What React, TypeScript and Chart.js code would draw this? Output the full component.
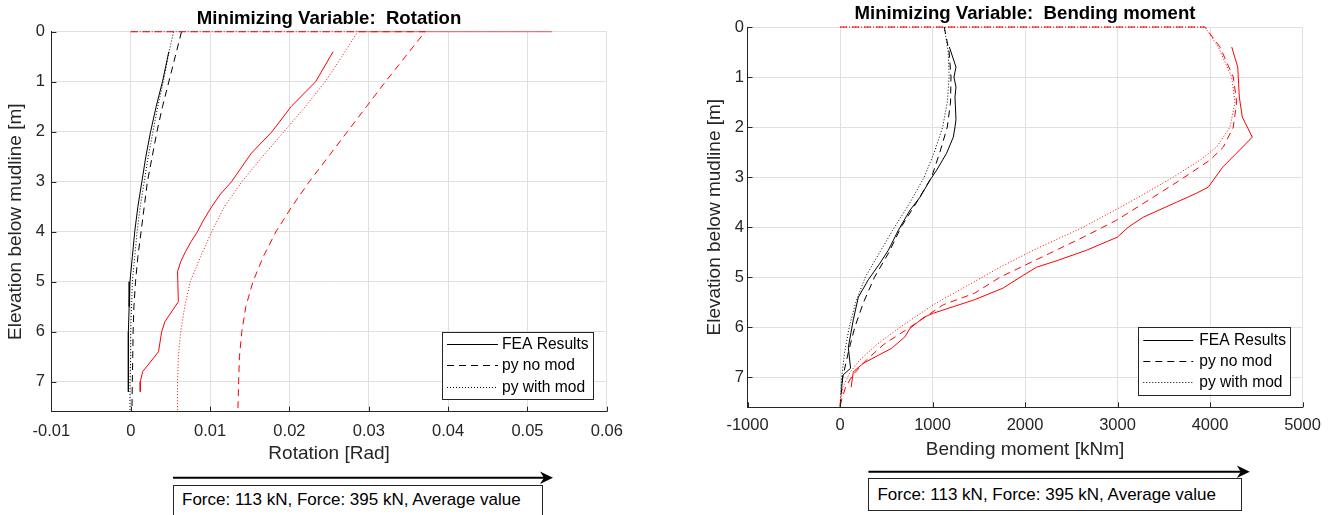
import React, { useEffect, useRef } from 'react';
import { Chart, registerables } from 'chart.js';

Chart.register(...registerables);

const FONT = "'Liberation Sans', Arial, Helvetica, sans-serif";
const AXIS_COLOR = '#262626';
const GRID_COLOR = '#e0e0e0';
const RED = '#ff0000';
const BLACK = '#000000';

// ---------- shared texts / ticks ----------
const yAxisLabel = 'Elevation below mudline [m]';
const depthTicks = [0, 1, 2, 3, 4, 5, 6, 7];
const depthTickLabels = ['0', '1', '2', '3', '4', '5', '6', '7'];
const depthMin = 0;
const depthMax = 7.6;
const legendLabels = ['FEA Results', 'py no mod', 'py with mod'];
const annotationText = 'Force: 113 kN, Force: 395 kN, Average value';

// ---------- left panel: Rotation ----------
const rotTitle = 'Minimizing Variable:  Rotation';
const rotXLabel = 'Rotation [Rad]';
const rotXTicks = [-0.01, 0, 0.01, 0.02, 0.03, 0.04, 0.05, 0.06];
const rotXTickLabels = ['-0.01', '0', '0.01', '0.02', '0.03', '0.04', '0.05', '0.06'];

const rotFeaBlackDepth = [0.4, 1, 1.5, 2, 2.5, 3, 3.5, 4, 4.5, 5, 5.5, 6, 6.5, 7, 7.2];
const rotFeaBlack = [0.0048, 0.004, 0.0032, 0.0025, 0.0019, 0.0014, 0.0009, 0.0005, 0.0002, -0.0001, -0.0002, -0.0003, -0.0003, -0.0003, -0.0003];

const rotPyDepth = [0, 0.5, 1, 1.5, 2, 2.5, 3, 3.5, 4, 4.5, 5, 5.5, 6, 6.5, 7, 7.6];
const rotNoModBlack = [0.0064, 0.0056, 0.0048, 0.004, 0.0033, 0.0027, 0.0021, 0.0017, 0.0013, 0.0009, 0.0006, 0.0004, 0.0003, 0.00025, 0.0002, 0.00015];
const rotWithModBlack = [0.0054, 0.0047, 0.0041, 0.0034, 0.0028, 0.0022, 0.0017, 0.0012, 0.0008, 0.0005, 0.0002, 0.0001, 0.0, 0.0, -0.0001, -0.0001];

const rotFeaRedDepth = [0.4, 1.0, 1.5, 2.0, 2.43, 3.0, 3.25, 3.5, 3.76, 4.0, 4.2, 4.4, 4.6, 4.8, 5.4, 5.8, 6.0, 6.4, 6.8, 7.0, 7.2];
const rotFeaRed = [0.0255, 0.0233, 0.0202, 0.0178, 0.0152, 0.0127, 0.0113, 0.0102, 0.0092, 0.0084, 0.0076, 0.0069, 0.0063, 0.0059, 0.006, 0.0043, 0.0039, 0.0035, 0.0015, 0.0012, 0.0012];

const rotNoModRedDepth = [0, 0, 0.5, 1, 1.5, 2, 2.5, 3, 3.5, 4, 4.5, 5, 5.5, 6, 6.5, 7, 7.6];
const rotNoModRed = [0, 0.0371, 0.0346, 0.0321, 0.0297, 0.0273, 0.0249, 0.0225, 0.0203, 0.0183, 0.0167, 0.0154, 0.0145, 0.014, 0.0137, 0.0136, 0.0135];

const rotWithModRedDepth = [0, 0, 0, 0.5, 1, 1.5, 2, 2.5, 3, 3.5, 4, 4.5, 5, 5.5, 6, 6.5, 7, 7.6];
const rotWithModRed = [0, 0.0531, 0.0286, 0.0266, 0.0245, 0.022, 0.0193, 0.0166, 0.014, 0.0118, 0.0102, 0.0088, 0.0075, 0.0068, 0.0063, 0.006, 0.0059, 0.0059];

// ---------- right panel: Bending moment ----------
const bmTitle = 'Minimizing Variable:  Bending moment';
const bmXLabel = 'Bending moment [kNm]';
const bmXTicks = [-1000, 0, 1000, 2000, 3000, 4000, 5000];
const bmXTickLabels = ['-1000', '0', '1000', '2000', '3000', '4000', '5000'];

const bmFeaBlackDepth = [0.4, 0.8, 1.0, 1.2, 1.4, 1.85, 2.0, 2.2, 2.52, 2.86, 3.06, 3.4, 3.66, 4.06, 4.46, 4.72, 5.05, 5.4, 5.85, 6.4, 6.82, 6.96, 7.2];
const bmFeaBlack = [1182, 1254, 1232, 1254, 1243, 1254, 1243, 1225, 1153, 1045, 973, 865, 757, 631, 523, 432, 306, 198, 144, 90, 114, 30, 18];

const bmPyDepth = [0, 0.5, 1, 1.5, 2, 2.5, 3, 3.5, 4, 4.5, 5, 5.5, 6, 6.5, 7, 7.6];
const bmNoModBlack = [1127, 1180, 1200, 1195, 1160, 1080, 990, 830, 660, 530, 373, 255, 160, 90, 30, 0];
const bmWithModBlack = [1127, 1170, 1180, 1160, 1110, 1020, 910, 760, 590, 430, 273, 170, 100, 50, 18, 0];

const bmFeaRedDepth = [0.4, 0.8, 1.4, 1.8, 2.2, 2.52, 2.8, 3.2, 3.32, 3.5, 3.8, 4.0, 4.2, 4.46, 4.66, 4.8, 4.96, 5.22, 5.45, 5.72, 5.8, 6.02, 6.19, 6.42, 6.72, 6.89, 7.2];
const bmFeaRed = [4235, 4300, 4317, 4349, 4457, 4288, 4137, 3982, 3856, 3640, 3279, 3117, 2998, 2667, 2360, 2126, 1982, 1760, 1455, 1009, 909, 757, 703, 559, 252, 144, 120];

const bmNoModRedDepth = [0, 0, 0.4, 1.0, 1.5, 2.0, 2.4, 2.66, 3.06, 3.4, 3.86, 4.2, 4.52, 4.76, 5.0, 5.32, 5.55, 6.0, 6.35, 6.65, 6.95, 7.2, 7.45, 7.6];
const bmNoModRed = [0, 3946, 4108, 4252, 4288, 4252, 4144, 4000, 3676, 3387, 2991, 2630, 2270, 2000, 1730, 1455, 1117, 757, 468, 288, 140, 60, 18, 0];

const bmWithModRedDepth = [0, 0, 0.4, 1.0, 1.5, 2.0, 2.4, 2.66, 3.0, 3.46, 4.0, 4.46, 4.8, 5.55, 6.0, 6.35, 6.65, 6.9, 7.2, 7.6];
const bmWithModRed = [0, 3946, 4090, 4234, 4270, 4216, 4072, 3892, 3604, 3171, 2630, 2090, 1730, 1009, 649, 396, 216, 108, 30, 0];

// ---------- styling ----------
const DASH = [7, 5];
const DOT = [1, 2];
const legendStyles = [
  { color: BLACK, dash: [] as number[] },
  { color: BLACK, dash: DASH },
  { color: BLACK, dash: DOT },
];

const pts = (xs: number[], ys: number[]) => xs.map((v, i) => ({ x: v, y: ys[i] }));

type Series = { label: string; x: number[]; y: number[]; color: string; dash: number[]; order: number };

type PanelSpec = {
  left: number;
  width: number;
  height: number;
  title: string;
  titlePad: { top: number; bottom: number };
  xLabel: string;
  xMin: number;
  xMax: number;
  xTicks: number[];
  xTickLabels: string[];
  padRight: number;
  yAxisWidth: number;
  yTickPad: number;
  yTitlePadTop: number;
  xAxisHeight: number;
  xTickPad: number;
  xTitlePadBottom: number;
  legend: { x: number; y: number; w: number; h: number; lx0: number; lx1: number; tx: number; row0: number; dy: number };
  series: Series[];
};

const leftSpec: PanelSpec = {
  left: 0,
  width: 670,
  height: 470,
  title: rotTitle,
  titlePad: { top: 7.6, bottom: 1.8 },
  xLabel: rotXLabel,
  xMin: -0.01,
  xMax: 0.06,
  xTicks: rotXTicks,
  xTickLabels: rotXTickLabels,
  padRight: 63.2,
  yAxisWidth: 51.4,
  yTickPad: 6.4,
  yTitlePadTop: 3.9,
  xAxisHeight: 58.3,
  xTickPad: 10.1,
  xTitlePadBottom: 5.3,
  legend: { x: 442, y: 332, w: 151, h: 67, lx0: 447, lx1: 498, tx: 502, row0: 344, dy: 21.3 },
  series: [
    { label: legendLabels[0], x: rotFeaRed, y: rotFeaRedDepth, color: RED, dash: [], order: 0 },
    { label: legendLabels[1], x: rotNoModRed, y: rotNoModRedDepth, color: RED, dash: DASH, order: 0 },
    { label: legendLabels[2], x: rotWithModRed, y: rotWithModRedDepth, color: RED, dash: DOT, order: 0 },
    { label: legendLabels[0], x: rotFeaBlack, y: rotFeaBlackDepth, color: BLACK, dash: [], order: 1 },
    { label: legendLabels[1], x: rotNoModBlack, y: rotPyDepth, color: BLACK, dash: DASH, order: 1 },
    { label: legendLabels[2], x: rotWithModBlack, y: rotPyDepth, color: BLACK, dash: DOT, order: 1 },
  ],
};

const rightSpec: PanelSpec = {
  left: 700,
  width: 639,
  height: 470,
  title: bmTitle,
  titlePad: { top: 2.3, bottom: 2.4 },
  xLabel: bmXLabel,
  xMin: -1000,
  xMax: 5000,
  xTicks: bmXTicks,
  xTickLabels: bmXTickLabels,
  padRight: 36.5,
  yAxisWidth: 47.5,
  yTickPad: 3.6,
  yTitlePadTop: 3.1,
  xAxisHeight: 62.7,
  xTickPad: 7.8,
  xTitlePadBottom: 8.6,
  legend: { x: 437.6, y: 326.5, w: 152.2, h: 67.5, lx0: 443.3, lx1: 493.3, tx: 499.3, row0: 339.5, dy: 21.3 },
  series: [
    { label: legendLabels[0], x: bmFeaRed, y: bmFeaRedDepth, color: RED, dash: [], order: 0 },
    { label: legendLabels[1], x: bmNoModRed, y: bmNoModRedDepth, color: RED, dash: DASH, order: 0 },
    { label: legendLabels[2], x: bmWithModRed, y: bmWithModRedDepth, color: RED, dash: DOT, order: 0 },
    { label: legendLabels[0], x: bmFeaBlack, y: bmFeaBlackDepth, color: BLACK, dash: [], order: 1 },
    { label: legendLabels[1], x: bmNoModBlack, y: bmPyDepth, color: BLACK, dash: DASH, order: 1 },
    { label: legendLabels[2], x: bmWithModBlack, y: bmPyDepth, color: BLACK, dash: DOT, order: 1 },
  ],
};

function makeExtrasPlugin(spec: PanelSpec) {
  return {
    id: 'matlabExtras',
    afterDatasetsDraw(chart: any) {
      const { ctx, chartArea: a, scales } = chart;
      const xs = scales.x;
      const ys = scales.y;
      ctx.save();
      // inward tick marks
      ctx.strokeStyle = AXIS_COLOR;
      ctx.lineWidth = 1;
      ctx.setLineDash([]);
      ctx.beginPath();
      for (const t of xs.ticks) {
        const px = Math.round(xs.getPixelForValue(t.value)) + 0.5;
        ctx.moveTo(px, a.bottom);
        ctx.lineTo(px, a.bottom - 5);
      }
      for (const t of ys.ticks) {
        const py = Math.round(ys.getPixelForValue(t.value)) + 0.5;
        ctx.moveTo(a.left, py);
        ctx.lineTo(a.left + 5, py);
      }
      ctx.stroke();

      // legend box
      const L = spec.legend;
      ctx.fillStyle = '#ffffff';
      ctx.fillRect(L.x, L.y, L.w, L.h);
      ctx.strokeStyle = AXIS_COLOR;
      ctx.lineWidth = 1;
      ctx.strokeRect(Math.round(L.x) + 0.5, Math.round(L.y) + 0.5, Math.round(L.w), Math.round(L.h));
      ctx.font = `15.6px ${FONT}`;
      ctx.textBaseline = 'middle';
      ctx.textAlign = 'left';
      legendLabels.forEach((lab, i) => {
        const yy = Math.round(L.row0 + i * L.dy) + 0.5;
        const st = legendStyles[i];
        ctx.strokeStyle = st.color;
        ctx.setLineDash(st.dash);
        ctx.beginPath();
        ctx.moveTo(L.lx0, yy);
        ctx.lineTo(L.lx1, yy);
        ctx.stroke();
        ctx.setLineDash([]);
        ctx.fillStyle = '#000000';
        ctx.fillText(lab, L.tx, yy);
      });
      ctx.restore();
    },
  };
}

function buildConfig(spec: PanelSpec): any {
  return {
    type: 'scatter',
    data: {
      datasets: spec.series.map((s) => ({
        label: s.label,
        data: pts(s.x, s.y),
        showLine: true,
        borderColor: s.color,
        backgroundColor: s.color,
        borderWidth: 1,
        borderDash: s.dash,
        pointRadius: 0,
        pointHoverRadius: 0,
        fill: false,
        tension: 0,
        clip: 3,
        order: s.order,
      })),
    },
    options: {
      responsive: false,
      animation: false,
      events: [],
      layout: { padding: { left: 0, right: spec.padRight, top: 0, bottom: 0 } },
      plugins: {
        legend: { display: false },
        tooltip: { enabled: false },
        title: {
          display: true,
          fullSize: false,
          text: spec.title,
          color: '#000000',
          font: { family: FONT, size: 18.6, weight: 'bold' },
          padding: spec.titlePad,
        },
      },
      scales: {
        x: {
          type: 'linear',
          min: spec.xMin,
          max: spec.xMax,
          afterBuildTicks: (sc: any) => {
            sc.ticks = spec.xTicks.map((v) => ({ value: v }));
          },
          afterFit: (sc: any) => {
            sc.height = spec.xAxisHeight;
          },
          ticks: {
            callback: (_v: any, i: number) => spec.xTickLabels[i],
            color: AXIS_COLOR,
            font: { family: FONT, size: 16.5 },
            padding: spec.xTickPad,
            maxRotation: 0,
            minRotation: 0,
            autoSkip: false,
          },
          grid: { color: GRID_COLOR, lineWidth: 1, drawTicks: false },
          border: { display: true, color: AXIS_COLOR, width: 1 },
          title: {
            display: true,
            text: spec.xLabel,
            color: AXIS_COLOR,
            font: { family: FONT, size: 19 },
            padding: { top: 0, bottom: spec.xTitlePadBottom },
          },
        },
        y: {
          type: 'linear',
          reverse: true,
          min: depthMin,
          max: depthMax,
          afterBuildTicks: (sc: any) => {
            sc.ticks = depthTicks.map((v) => ({ value: v }));
          },
          afterFit: (sc: any) => {
            sc.width = spec.yAxisWidth;
          },
          ticks: {
            callback: (_v: any, i: number) => depthTickLabels[i],
            color: AXIS_COLOR,
            font: { family: FONT, size: 16.5 },
            padding: spec.yTickPad,
            autoSkip: false,
          },
          grid: { color: GRID_COLOR, lineWidth: 1, drawTicks: false },
          border: { display: true, color: AXIS_COLOR, width: 1 },
          title: {
            display: true,
            text: yAxisLabel,
            color: AXIS_COLOR,
            font: { family: FONT, size: 19 },
            padding: { top: spec.yTitlePadTop, bottom: 0 },
          },
        },
      },
    },
    plugins: [makeExtrasPlugin(spec)],
  };
}

function Panel({ spec }: { spec: PanelSpec }) {
  const ref = useRef<HTMLCanvasElement | null>(null);
  useEffect(() => {
    if (!ref.current) return;
    const chart = new Chart(ref.current, buildConfig(spec));
    return () => chart.destroy();
  }, [spec]);
  return (
    <canvas
      ref={ref}
      width={spec.width}
      height={spec.height}
      style={{ position: 'absolute', left: spec.left, top: 0, width: spec.width, height: spec.height }}
    />
  );
}

type Note = { boxLeft: number; boxTop: number; boxWidth: number; boxHeight: number; lineHeight: number; arrowY: number; arrowTip: number };

const notes: Note[] = [
  { boxLeft: 173, boxTop: 484.5, boxWidth: 370, boxHeight: 34, lineHeight: 28, arrowY: 477.7, arrowTip: 553 },
  { boxLeft: 868.4, boxTop: 477.7, boxWidth: 374, boxHeight: 33.3, lineHeight: 31, arrowY: 471.7, arrowTip: 1249.8 },
];

export default function App() {
  return (
    <div
      style={{
        position: 'fixed',
        left: 0,
        top: 0,
        width: 1339,
        height: 515,
        background: '#ffffff',
        overflow: 'hidden',
      }}
    >
      <Panel spec={leftSpec} />
      <Panel spec={rightSpec} />
      <svg
        width={1339}
        height={515}
        style={{ position: 'absolute', left: 0, top: 0, pointerEvents: 'none' }}
      >
        {notes.map((n, i) => (
          <g key={i}>
            <line x1={n.boxLeft} y1={n.arrowY} x2={n.arrowTip - 8} y2={n.arrowY} stroke="#000" strokeWidth={2} />
            <polygon
              points={`${n.arrowTip},${n.arrowY} ${n.arrowTip - 13},${n.arrowY - 6.3} ${n.arrowTip - 9},${n.arrowY} ${n.arrowTip - 13},${n.arrowY + 6.3}`}
              fill="#000"
            />
          </g>
        ))}
      </svg>
      {notes.map((n, i) => (
        <div
          key={i}
          style={{
            position: 'absolute',
            left: n.boxLeft,
            top: n.boxTop,
            width: n.boxWidth,
            height: n.boxHeight,
            border: '1px solid #262626',
            boxSizing: 'border-box',
            background: '#ffffff',
            fontFamily: FONT,
            fontSize: 17,
            lineHeight: `${n.lineHeight}px`,
            paddingLeft: 8,
            whiteSpace: 'nowrap',
            color: '#000000',
          }}
        >
          {annotationText}
        </div>
      ))}
    </div>
  );
}
